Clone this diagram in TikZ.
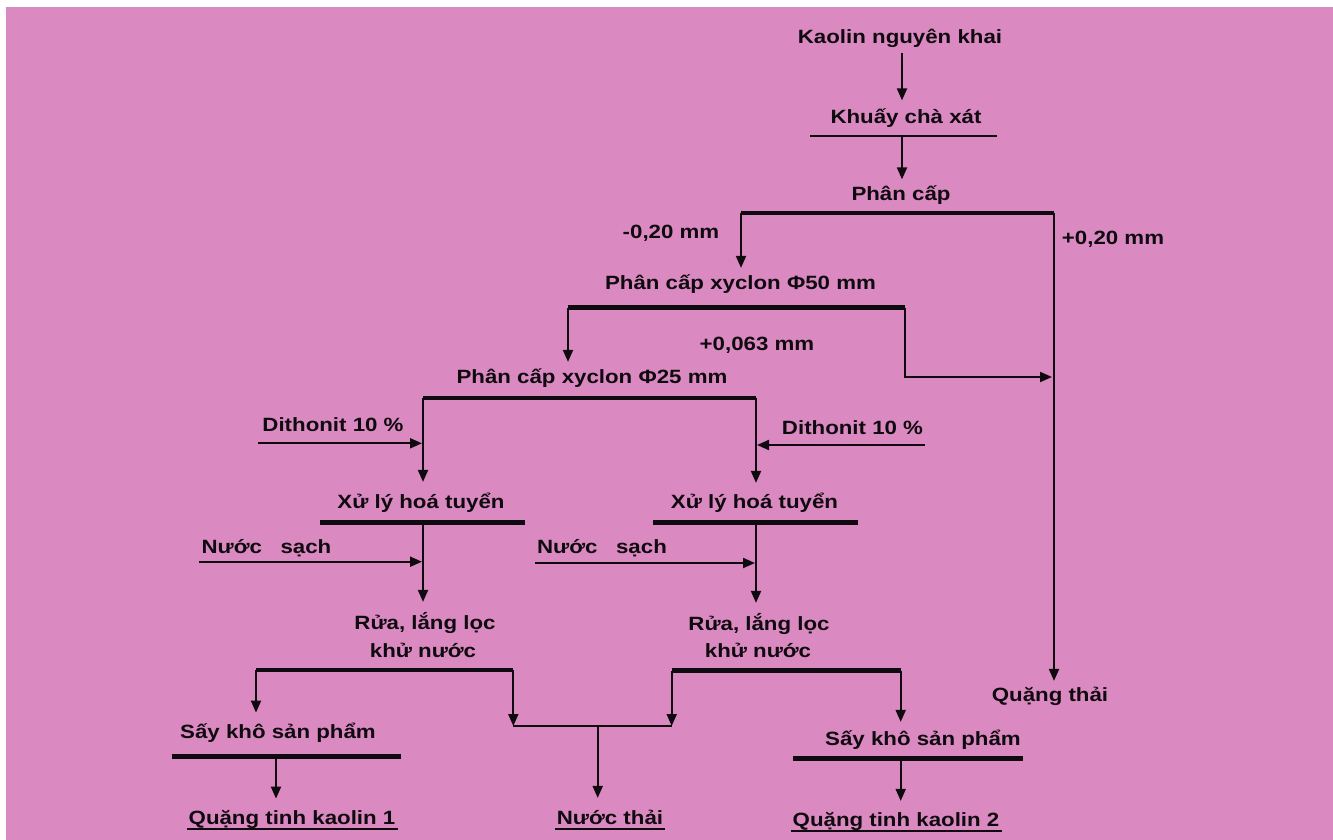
\documentclass[tikz,border=0pt]{standalone}
\usepackage{fontspec}
\newfontfamily\diagfont[FakeStretch=1.16]{Liberation Sans}
\usetikzlibrary{arrows.meta}
\definecolor{bgpink}{RGB}{219,137,193}
\definecolor{ink}{RGB}{15,10,15}
\tikzset{
  lbl/.style={font=\diagfont\bfseries\fontsize{19.2}{22}\selectfont, text=ink, inner xsep=0pt, inner ysep=10pt, text height=13.8pt, text depth=0pt, anchor=center},
  flow/.style={draw=ink, line width=2pt, -{Triangle[length=12pt,width=10pt]}},
  bar/.style={draw=ink, line width=4.5pt},
  thinln/.style={draw=ink, line width=2pt},
}
\begin{document}
\begin{tikzpicture}[x=1pt,y=-1pt]
\useasboundingbox (0,0) rectangle (1333,840);
\fill[white] (0,0) rectangle (1333,840);
\fill[bgpink] (6,7) rectangle (1333,840);

% ---------- labels (placed at the middle of their capitals) ----------
\node[lbl] (kaolin) at (900,37) {Kaolin nguyên khai};
\node[lbl, inner ysep=9pt] (khuay) at (906,116.5) {Khuấy chà xát};
\node[lbl, inner ysep=7pt] (phancap) at (901,193.5) {Phân cấp};
\node[lbl] (m020) at (671,232) {-0,20 mm};
\node[lbl] (p020) at (1113,238) {+0,20 mm};
\node[lbl, inner ysep=8pt] (x50) at (740.5,283) {Phân cấp xyclon Φ50 mm};
\node[lbl] (p063) at (757,343.5) {+0,063 mm};
\node[lbl, inner ysep=8pt] (x25) at (592,377) {Phân cấp xyclon Φ25 mm};
\node[lbl] (dithL) at (333,424.5) {Dithonit 10 \%};
\node[lbl] (dithR) at (852.5,427.5) {Dithonit 10 \%};
\node[lbl, inner ysep=13pt] (xlL) at (421,502) {Xử lý hoá tuyển};
\node[lbl, inner ysep=12pt] (xlR) at (754.5,502) {Xử lý hoá tuyển};
\node[lbl] (nsL) at (266.5,546.5) {Nước\ \ \ sạch};
\node[lbl] (nsR) at (602,547) {Nước\ \ \ sạch};
\node[lbl, inner ysep=14pt] (ruaL) at (425,623) {Rửa, lắng lọc};
\node[lbl, inner ysep=0pt] (ruaL2) at (423,650.5) {khử nước};
\node[lbl, inner ysep=14pt] (ruaR) at (759,624) {Rửa, lắng lọc};
\node[lbl, inner ysep=0pt] (ruaR2) at (758,651) {khử nước};
\node[lbl, inner ysep=7pt] (quangthai) at (1050,695) {Quặng thải};
\node[lbl, inner ysep=12pt] (sayL) at (278,731.7) {Sấy khô sản phẩm};
\node[lbl, inner ysep=10pt] (sayR) at (923,739) {Sấy khô sản phẩm};
\node[lbl, inner ysep=12pt] (qt1) at (292,817.7) {Quặng tinh kaolin 1};
\node[lbl, inner ysep=13pt] (nuocthai) at (610,818) {Nước thải};
\node[lbl, inner ysep=12pt] (qt2) at (896,820) {Quặng tinh kaolin 2};

% ---------- bars and junction points ----------
\coordinate (kaoOut) at (902,52.7);
\coordinate (khuayBL) at (810,136);
\coordinate (khuayBR) at (997,136);
\coordinate (khuayBM) at (902,136);
\coordinate (pcL) at (741,213);
\coordinate (pcR) at (1054,213);
\coordinate (x50L) at (568,307.7);
\coordinate (x50R) at (905,307.7);
\coordinate (joinQ) at (1052,377);
\coordinate (x25L) at (423,397.7);
\coordinate (x25R) at (756,397.7);
\coordinate (dithLs) at (258,443.3);
\coordinate (dithLe) at (422,443.3);
\coordinate (dithRs) at (925,445);
\coordinate (dithRe) at (757,445);
\coordinate (xlLbl) at (320,522.3);
\coordinate (xlLbr) at (525,522.3);
\coordinate (xlLbm) at (423,522.3);
\coordinate (xlRbl) at (653,522.7);
\coordinate (xlRbr) at (858,522.7);
\coordinate (xlRbm) at (756,522.7);
\coordinate (nsLs) at (199,561.7);
\coordinate (nsLe) at (422,561.7);
\coordinate (nsRs) at (535,563);
\coordinate (nsRe) at (755,563);
\coordinate (ruaLbl) at (256,670);
\coordinate (ruaLbr) at (513.3,670);
\coordinate (ruaRbl) at (671.7,670.7);
\coordinate (ruaRbr) at (900.7,670.7);
\coordinate (wL) at (513.3,726);
\coordinate (wR) at (671.7,726);
\coordinate (wM) at (597.7,726);
\coordinate (sayLbl) at (171.7,756.7);
\coordinate (sayLbr) at (400.7,756.7);
\coordinate (sayLbm) at (276,756.7);
\coordinate (sayRbl) at (793,758.3);
\coordinate (sayRbr) at (1022.7,758.3);
\coordinate (sayRbm) at (900.7,758.3);

% ---------- flow ----------
\draw[flow] (kaoOut) -- (khuay.north -| kaoOut);
\draw[thinln] (khuayBL) -- (khuayBR);
\draw[flow] (khuayBM) -- (phancap.north -| khuayBM);
\draw[bar] (pcL) -- (pcR);
\draw[flow] (pcL) -- (x50.north -| pcL);
\draw[flow] (pcR) -- (quangthai.north -| pcR);
\draw[bar] (x50L) -- (x50R);
\draw[flow] (x50L) -- (x25.north -| x50L);
\draw[flow] (x50R) |- (joinQ);
\draw[bar, line width=4pt] (x25L) -- (x25R);
\draw[flow] (x25L) -- (xlL.north -| x25L);
\draw[flow] (x25R) -- (xlR.north -| x25R);
\draw[flow] (dithLs) -- (dithLe);
\draw[flow] (dithRs) -- (dithRe);
\draw[bar] (xlLbl) -- (xlLbr);
\draw[bar] (xlRbl) -- (xlRbr);
\draw[flow] (xlLbm) -- (ruaL.north -| xlLbm);
\draw[flow] (xlRbm) -- (ruaR.north -| xlRbm);
\draw[flow] (nsLs) -- (nsLe);
\draw[flow] (nsRs) -- (nsRe);
\draw[bar] (ruaLbl) -- (ruaLbr);
\draw[bar] (ruaRbl) -- (ruaRbr);
\draw[flow] (ruaLbl) -- (sayL.north -| ruaLbl);
\draw[flow] (ruaLbr) -- (wL);
\draw[flow] (ruaRbl) -- (wR);
\draw[flow] (ruaRbr) -- (sayR.north -| ruaRbr);
\draw[thinln] (wL) -- (wR);
\draw[flow] (wM) -- (nuocthai.north -| wM);
\draw[bar] (sayLbl) -- (sayLbr);
\draw[bar] (sayRbl) -- (sayRbr);
\draw[flow] (sayLbm) -- (qt1.north -| sayLbm);
\draw[flow] (sayRbm) -- (qt2.north -| sayRbm);

% underlines of the products
\foreach \n in {qt1,nuocthai,qt2}
  \draw[thinln] ([xshift=-1.5pt,yshift=-4.5pt]\n.base west) -- ([xshift=2pt,yshift=-4.5pt]\n.base east);
\end{tikzpicture}
\end{document}
